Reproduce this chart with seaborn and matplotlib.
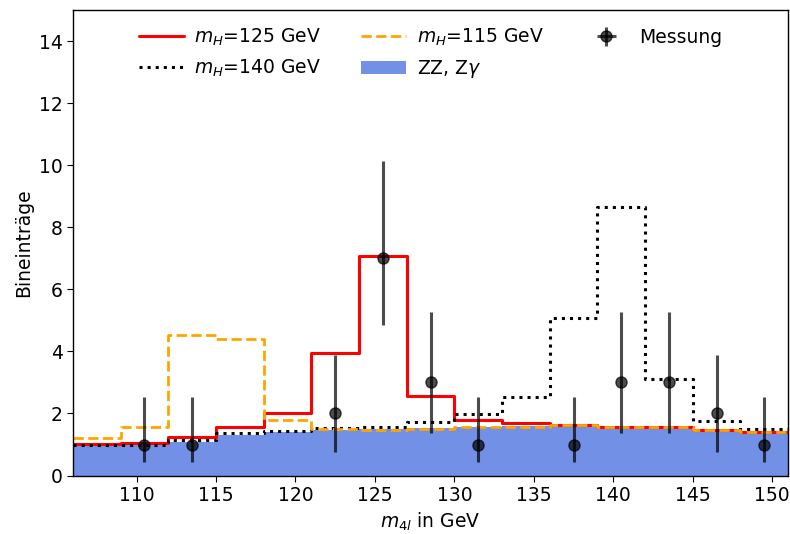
import numpy as np
import pandas as pd
import matplotlib
matplotlib.use("Agg")
import matplotlib.pyplot as plt
import seaborn as sns

# Bin edges of the four-lepton invariant mass histogram (GeV)
bin_edges = [106, 109, 112, 115, 118, 121, 124, 127, 130, 133, 136, 139, 142, 145, 148, 151]
bin_centers = [107.5, 110.5, 113.5, 116.5, 119.5, 122.5, 125.5, 128.5, 131.5,
               134.5, 137.5, 140.5, 143.5, 146.5, 149.5]

# Expected entries per bin
background_zz = [0.97, 0.99, 1.09, 1.32, 1.41, 1.46, 1.50, 1.52, 1.58, 1.59,
                 1.58, 1.52, 1.52, 1.43, 1.38]
signal_125 = [1.02, 1.05, 1.23, 1.55, 2.00, 3.95, 7.08, 2.55, 1.78, 1.68,
              1.62, 1.55, 1.55, 1.46, 1.41]
signal_140 = [1.00, 1.00, 1.16, 1.36, 1.44, 1.52, 1.57, 1.73, 1.98, 2.52,
              5.08, 8.66, 3.12, 1.75, 1.50]
signal_115 = [1.20, 1.57, 4.54, 4.41, 1.78, 1.50, 1.48, 1.50, 1.57, 1.58,
              1.62, 1.55, 1.55, 1.46, 1.41]

# Measured events per bin with asymmetric uncertainties
data_counts = [0, 1, 1, 0, 0, 2, 7, 3, 1, 0, 1, 3, 3, 2, 1]
err_low = [0.0, 0.57, 0.57, 0.0, 0.0, 1.24, 2.16, 1.64, 0.57, 0.0, 0.57, 1.64, 1.64, 1.24, 0.57]
err_high = [0.0, 1.53, 1.53, 0.0, 0.0, 1.90, 3.14, 2.26, 1.53, 0.0, 1.53, 2.26, 2.26, 1.90, 1.53]

x_ticks = [110, 115, 120, 125, 130, 135, 140, 145, 150]
y_ticks = [0, 2, 4, 6, 8, 10, 12, 14]

sns.set_style("ticks")
plt.rcParams["font.family"] = ["DejaVu Sans"]
plt.rcParams["text.color"] = "black"
plt.rcParams["axes.labelcolor"] = "black"
plt.rcParams["xtick.color"] = "black"
plt.rcParams["ytick.color"] = "black"

df = pd.DataFrame({
    "m4l": bin_centers,
    "bkg": background_zz,
    "h125": signal_125,
    "h140": signal_140,
    "h115": signal_115,
    "n": data_counts,
    "lo": err_low,
    "hi": err_high,
})

fig = plt.figure(figsize=(7.9, 5.34), dpi=100)
ax = fig.add_axes([0.0924, 0.1095, 0.9051, 0.8715])

sns.histplot(data=df, x="m4l", weights="bkg", bins=bin_edges, element="step",
             fill=True, color="#7290e6", alpha=1.0, linewidth=0,
             label="ZZ, Z$\\gamma$", ax=ax)
sns.histplot(data=df, x="m4l", weights="h125", bins=bin_edges, element="step",
             fill=False, color="red", linewidth=2.2, linestyle="-",
             label="$m_H$=125 GeV", ax=ax)
sns.histplot(data=df, x="m4l", weights="h140", bins=bin_edges, element="step",
             fill=False, color="black", linewidth=2.2, linestyle=":",
             label="$m_H$=140 GeV", ax=ax)
sns.histplot(data=df, x="m4l", weights="h115", bins=bin_edges, element="step",
             fill=False, color="orange", linewidth=2.0, linestyle="--",
             label="$m_H$=115 GeV", ax=ax)

meas = df[df["n"] > 0]
ax.errorbar(meas["m4l"], meas["n"], yerr=[meas["lo"], meas["hi"]],
            xerr=0, fmt="o", color="black", alpha=0.7, markersize=8,
            elinewidth=2.2, label="Messung")

ax.set_xlim(bin_edges[0], bin_edges[-1])
ax.set_ylim(0, 15)
ax.set_xticks(x_ticks)
ax.set_yticks(y_ticks)
ax.tick_params(labelsize=13.5, direction="out", length=4, colors="black")
ax.set_xlabel("$m_{4l}$ in GeV", fontsize=13.5, color="black")
ax.set_ylabel("Bineinträge", fontsize=13.5, color="black")
for side in ["top", "right", "left", "bottom"]:
    ax.spines[side].set_visible(True)
    ax.spines[side].set_linewidth(1.0)
    ax.spines[side].set_color("black")

handles, labels = ax.get_legend_handles_labels()
lookup = dict(zip(labels, handles))
order = ["$m_H$=125 GeV", "$m_H$=140 GeV", "$m_H$=115 GeV", "ZZ, Z$\\gamma$", "Messung"]
leg = ax.legend([lookup[k] for k in order], order, loc="upper center", ncol=3,
                frameon=False, fontsize=13.5, handlelength=2.4,
                handletextpad=0.55, columnspacing=2.15)
for t in leg.get_texts():
    t.set_color("black")

fig.savefig("out.png", dpi=100)
